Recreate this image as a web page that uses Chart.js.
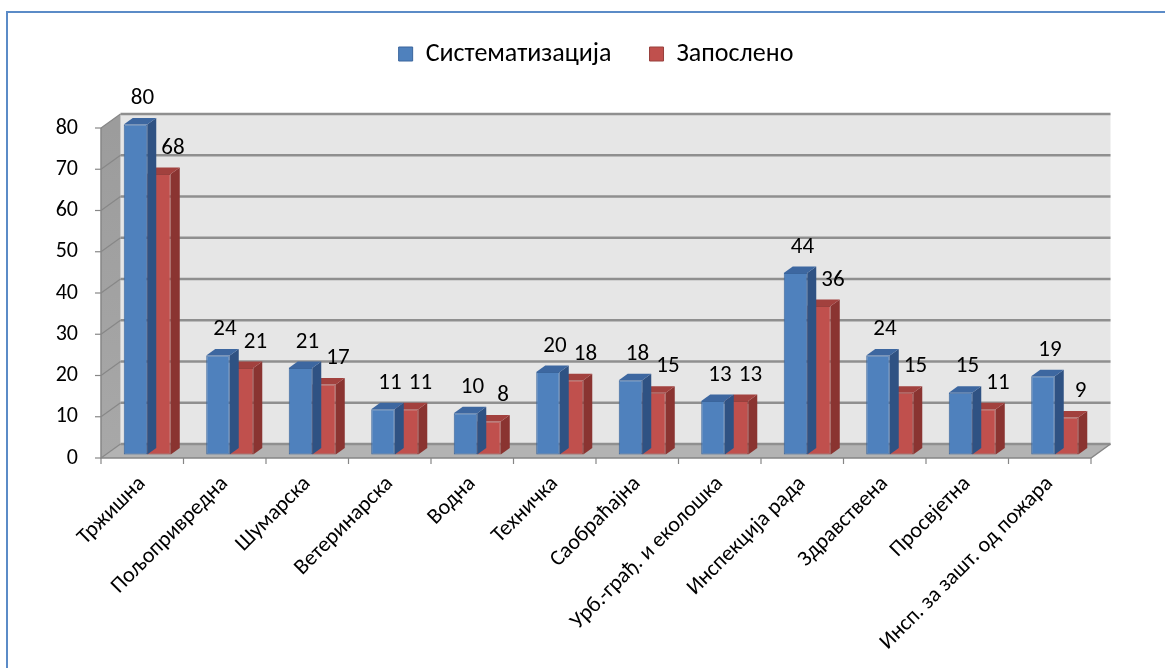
<!DOCTYPE html>
<html>
<head>
<meta charset="utf-8">
<script src="https://cdn.jsdelivr.net/npm/chart.js@4.4.1/dist/chart.umd.min.js"></script>
<style>
  html, body { margin: 0; padding: 0; background: #fff; }
  #wrap { position: relative; width: 1165px; height: 668px; overflow: hidden; }
  #frame { position: absolute; left: 6px; top: 11px; width: 1300px; height: 800px;
           border-left: 2px solid #5b8bc7; border-top: 2px solid #5b8bc7; }
  canvas { position: absolute; left: 0; top: 0; }
</style>
</head>
<body>
<div id="wrap">
  <div id="frame"></div>
  <canvas id="chart" width="1165" height="668" style="width:1165px;height:668px"></canvas>
</div>
<script>
const categories = ['Тржишна', 'Пољопривредна', 'Шумарска', 'Ветеринарска', 'Водна', 'Техничка',
    'Саобраћајна', 'Урб.-грађ. и еколошка', 'Инспекција рада', 'Здравствена', 'Просвјетна',
    'Инсп. за зашт. од пожара'];
const sistematizacija = [80, 24, 21, 11, 10, 20, 18, 13, 44, 24, 15, 19];
const zaposleno = [68, 21, 17, 11, 8, 18, 15, 13, 36, 15, 11, 9];
const yTicks = [0, 10, 20, 30, 40, 50, 60, 70, 80];

const FONT = 'Carlito, Calibri, "Open Sans", sans-serif';

const DEPTH = { x: 19.5, y: -14 };     // back wall offset from front axis
const PLANE = { x: 5, y: -3.5 };       // plane of the bar fronts
const BAR_DEPTH = { x: 9, y: -6.5 };   // depth of one bar
const LABEL_DX = [7, 14];              // value label shift per series

const faces = [
    { top: '#3d67a0', side: '#2f5283' },
    { top: '#a2413e', side: '#8a3431' }
];

function poly(ctx, pts, fill, stroke) {
    ctx.beginPath();
    ctx.moveTo(pts[0][0], pts[0][1]);
    for (let i = 1; i < pts.length; i++) ctx.lineTo(pts[i][0], pts[i][1]);
    ctx.closePath();
    ctx.fillStyle = fill;
    ctx.fill();
    if (stroke) { ctx.strokeStyle = stroke; ctx.lineWidth = 1; ctx.stroke(); }
}

const walls3d = {
    id: 'walls3d',
    beforeUpdate(chart) {
        // leave room between legend and the plot for the 3d walls
        const lg = chart.legend;
        if (lg && !lg._gapPatched) {
            const fit = lg.fit.bind(lg);
            lg.fit = function() { fit(); this.height += 51; };
            lg._gapPatched = true;
        }
    },
    beforeDatasetsDraw(chart) {
        const { ctx, chartArea: a, scales: { x, y } } = chart;
        const dx = DEPTH.x, dy = DEPTH.y;
        ctx.save();
        // back wall
        poly(ctx, [[a.left + dx, a.top + dy], [a.right + dx, a.top + dy],
                   [a.right + dx, a.bottom + dy], [a.left + dx, a.bottom + dy]], '#e6e6e6');
        // left wall
        const lw = ctx.createLinearGradient(0, a.top, 0, a.bottom);
        lw.addColorStop(0, '#9c9c9c');
        lw.addColorStop(1, '#a8a8a8');
        poly(ctx, [[a.left, a.top], [a.left + dx, a.top + dy],
                   [a.left + dx, a.bottom + dy], [a.left, a.bottom]], lw);
        // floor
        poly(ctx, [[a.left, a.bottom], [a.right, a.bottom],
                   [a.right + dx, a.bottom + dy], [a.left + dx, a.bottom + dy]], '#b3b3b3');

        // gridlines
        yTicks.forEach(v => {
            const py = y.getPixelForValue(v);
            ctx.strokeStyle = '#8f8f8f';
            ctx.lineWidth = 2.5;
            ctx.beginPath();
            ctx.moveTo(a.left + dx, py + dy);
            ctx.lineTo(a.right + dx, py + dy);
            ctx.stroke();
            ctx.lineWidth = 1.2;
            ctx.strokeStyle = '#878787';
            ctx.beginPath();
            ctx.moveTo(a.left, py);
            ctx.lineTo(a.left + dx, py + dy);
            ctx.stroke();
            ctx.beginPath();
            ctx.moveTo(a.left - 6, py);
            ctx.lineTo(a.left, py);
            ctx.stroke();
        });

        // axes
        ctx.strokeStyle = '#868686';
        ctx.lineWidth = 1.5;
        ctx.beginPath();
        ctx.moveTo(a.left, a.top);
        ctx.lineTo(a.left, a.bottom);
        ctx.lineTo(a.right, a.bottom);
        ctx.lineTo(a.right + dx, a.bottom + dy);
        ctx.stroke();
        const half = (x.getPixelForValue(1) - x.getPixelForValue(0)) / 2;
        ctx.lineWidth = 1.2;
        for (let i = 0; i <= categories.length; i++) {
            const px = i < categories.length ? x.getPixelForValue(i) - half : x.getPixelForValue(i - 1) + half;
            ctx.beginPath();
            ctx.moveTo(px, a.bottom);
            ctx.lineTo(px, a.bottom + 6);
            ctx.stroke();
        }
        ctx.restore();

        ctx.save();
        ctx.translate(PLANE.x, PLANE.y);
    },
    afterDatasetDraw(chart, args) {
        const { ctx } = chart;
        const f = faces[args.index];
        const bx = BAR_DEPTH.x, by = BAR_DEPTH.y;
        args.meta.data.forEach(el => {
            const l = el.x - el.width / 2, r = el.x + el.width / 2;
            poly(ctx, [[r, el.y], [r + bx, el.y + by], [r + bx, el.base + by], [r, el.base]], f.side);
            poly(ctx, [[l, el.y], [r, el.y], [r + bx, el.y + by], [l + bx, el.y + by]], f.top);
        });
    },
    afterDatasetsDraw(chart) {
        const { ctx } = chart;
        ctx.font = '23px ' + FONT;
        ctx.fillStyle = '#000';
        ctx.textAlign = 'center';
        ctx.textBaseline = 'middle';
        chart.data.datasets.forEach((ds, di) => {
            chart.getDatasetMeta(di).data.forEach((el, i) => {
                ctx.fillText(String(ds.data[i]), el.x + LABEL_DX[di], el.y - 26);
            });
        });
        ctx.restore();
    }
};

new Chart(document.getElementById('chart'), {
    type: 'bar',
    data: {
        labels: categories,
        datasets: [
            { label: 'Систематизација', data: sistematizacija, backgroundColor: '#4f81bd',
              borderColor: '#3a659c', borderWidth: 1, borderSkipped: false, clip: false },
            { label: 'Запослено', data: zaposleno, backgroundColor: '#c0504d',
              borderColor: '#98403d', borderWidth: 1, borderSkipped: false, clip: false }
        ]
    },
    options: {
        responsive: false,
        animation: false,
        categoryPercentage: 0.57,
        barPercentage: 1.0,
        layout: { padding: { left: 8, right: 74, top: 3, bottom: 0 } },
        plugins: {
            legend: {
                position: 'top',
                fullSize: false,
                labels: {
                    boxWidth: 14,
                    boxHeight: 14,
                    padding: 38,
                    color: '#000',
                    font: { family: FONT, size: 26 }
                }
            },
            tooltip: { enabled: false }
        },
        scales: {
            x: {
                grid: { display: false, drawTicks: false },
                border: { display: false },
                ticks: {
                    color: '#000',
                    font: { family: FONT, size: 22 },
                    maxRotation: 45,
                    minRotation: 45,
                    autoSkip: false,
                    padding: 13
                },
                afterFit(scale) { scale.height = 210; }
            },
            y: {
                min: 0,
                max: 80,
                grid: { display: false, drawTicks: false },
                border: { display: false },
                ticks: {
                    color: '#000',
                    font: { family: FONT, size: 22 },
                    padding: 23
                },
                afterBuildTicks(scale) { scale.ticks = yTicks.map(v => ({ value: v })); },
                afterFit(scale) { scale.width = 93; }
            }
        }
    },
    plugins: [walls3d]
});
</script>
</body>
</html>
